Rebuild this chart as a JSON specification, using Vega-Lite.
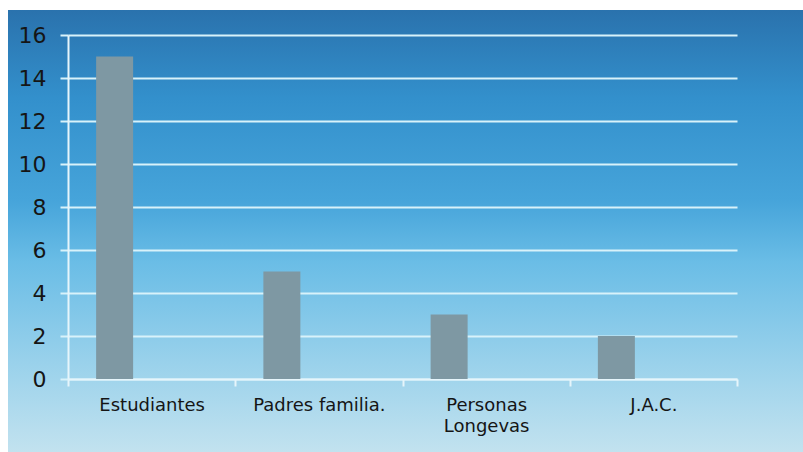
{
  "$schema": "https://vega.github.io/schema/vega-lite/v6.json",
  "width": 795,
  "height": 442,
  "autosize": "none",
  "padding": {"left": 8, "top": 10, "right": 0, "bottom": 0},
  "background": "#ffffff",
  "data": {
    "values": [
      {"categoria": "Estudiantes", "serie": "Serie 1", "valor": 15},
      {"categoria": "Padres familia.", "serie": "Serie 1", "valor": 5},
      {"categoria": "Personas Longevas", "serie": "Serie 1", "valor": 3},
      {"categoria": "J.A.C.", "serie": "Serie 1", "valor": 2}
    ]
  },
  "mark": {"type": "bar", "color": "#7e98a3"},
  "encoding": {
    "x": {
      "field": "categoria",
      "type": "nominal",
      "sort": ["Estudiantes", "Padres familia.", "Personas Longevas", "J.A.C."],
      "scale": {"range": [60, 729], "paddingInner": 0, "paddingOuter": 0},
      "axis": {
        "title": null,
        "orient": "bottom",
        "offset": -73,
        "labelAngle": 0,
        "labelFont": "DejaVu Sans",
        "labelFontSize": 18,
        "labelColor": "#151515",
        "labelPadding": 10,
        "labelBaseline": "top",
        "labelLineHeight": 21,
        "labelExpr": "datum.value == 'Personas Longevas' ? ['Personas', 'Longevas'] : datum.value",
        "tickBand": "extent",
        "tickSize": 7,
        "tickWidth": 2,
        "tickColor": "#e6f5fb",
        "domainColor": "#e6f5fb",
        "domainWidth": 2,
        "grid": false
      }
    },
    "xOffset": {
      "field": "serie",
      "type": "nominal",
      "scale": {"domain": ["Serie 1", "Serie 2", "Serie 3"], "paddingInner": 0, "paddingOuter": 0.76}
    },
    "y": {
      "field": "valor",
      "type": "quantitative",
      "scale": {"domain": [0, 16], "range": [369, 25], "nice": false, "zero": true},
      "axis": {
        "title": null,
        "offset": -60,
        "values": [0, 2, 4, 6, 8, 10, 12, 14, 16],
        "labelFont": "DejaVu Sans",
        "labelFontSize": 22,
        "labelColor": "#151515",
        "labelPadding": 14,
        "tickSize": 8,
        "tickWidth": 2,
        "tickColor": "#d8f2fa",
        "domainColor": "#e6f5fb",
        "domainWidth": 2,
        "grid": true,
        "gridColor": "#d8f2fa",
        "gridWidth": 2,
        "gridOpacity": 1
      }
    }
  },
  "config": {
    "view": {
      "stroke": null,
      "fill": {
        "gradient": "linear",
        "x1": 0, "y1": 0, "x2": 0, "y2": 1,
        "stops": [
          {"offset": 0, "color": "#2a72ad"},
          {"offset": 0.2, "color": "#3390cc"},
          {"offset": 0.43, "color": "#46a4da"},
          {"offset": 0.57, "color": "#6abde6"},
          {"offset": 0.84, "color": "#a2d5ec"},
          {"offset": 1, "color": "#c2e2ef"}
        ]
      }
    }
  }
}
